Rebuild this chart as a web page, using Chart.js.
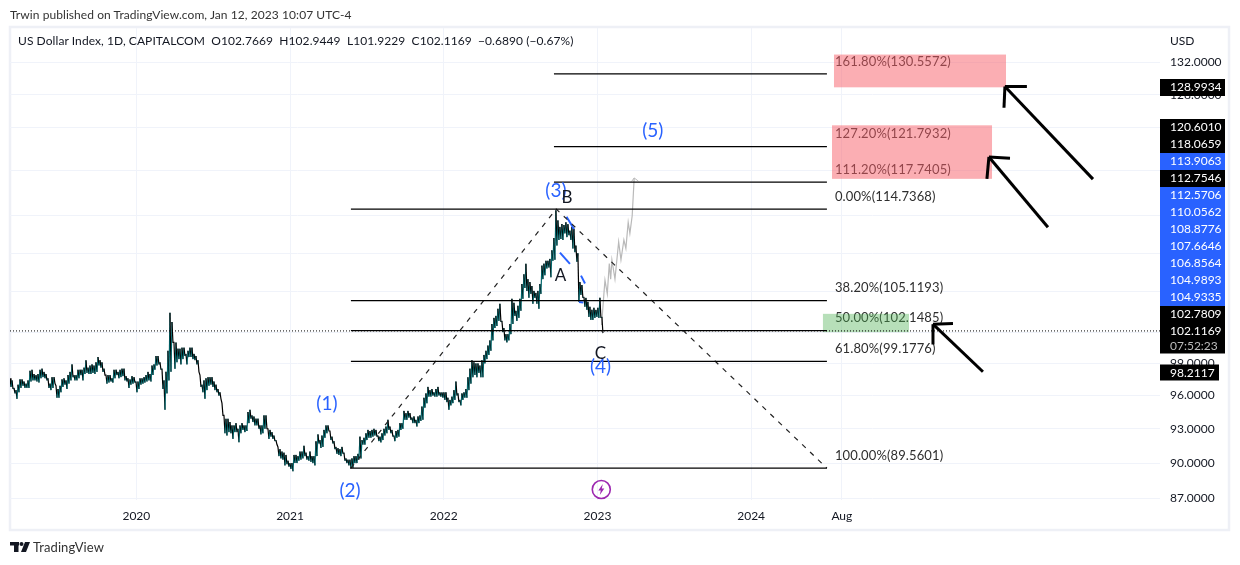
<!DOCTYPE html>
<html><head><meta charset="utf-8">
<script src="https://cdn.jsdelivr.net/npm/chart.js@4/dist/chart.umd.min.js"></script>
<style>
html,body{margin:0;padding:0;background:#fff;width:1240px;height:565px;overflow:hidden}
canvas{position:absolute;left:0;top:0}
.t{position:absolute;white-space:pre;color:#131722;font-family:"Lato",sans-serif;letter-spacing:0.07px}
</style></head><body>
<canvas id="c" width="1240" height="565"></canvas>
<div class="t" style="left:10px;top:7px;font-size:12px;color:#333">Trwin published on TradingView.com, Jan 12, 2023 10:07 UTC-4</div>
<div class="t" style="left:18px;top:33px;font-size:12px">US Dollar Index, 1D, CAPITALCOM  O102.7669  H102.9449  L101.9229  C102.1169  −0.6890 (−0.67%)</div>
<div class="t" style="left:33px;top:539px;font-size:13px;color:#333">TradingView</div>
<script>
const START_YEAR = 2019.178, STEP_YEAR = 0.01301;
const barHighs = [97.6,97.4,96.7,96.5,97.0,97.5,97.5,97.3,97.1,97.4,98.3,98.4,98.0,97.9,98.0,98.4,98.5,98.2,98.0,97.6,97.1,97.7,97.7,96.9,96.6,96.9,97.5,97.6,97.4,97.9,98.2,98.9,97.9,97.9,98.4,98.4,98.4,98.6,99.3,98.6,98.8,98.9,98.8,99.1,99.6,99.3,99.1,98.5,97.9,97.9,97.9,97.6,98.4,98.4,98.2,98.4,98.5,98.5,97.8,97.6,97.5,97.8,97.7,97.3,97.3,97.6,97.6,97.7,97.9,98.2,98.0,98.8,98.9,99.7,99.7,99.1,98.5,97.4,98.2,100.2,103.9,103.0,101.0,101.0,100.4,100.4,100.5,100.5,99.9,100.2,100.5,100.5,99.9,99.7,99.3,97.9,97.0,97.4,97.6,97.7,97.7,97.7,97.3,97.0,96.6,96.3,95.3,94.2,93.9,93.9,93.6,93.3,93.3,93.5,93.0,93.3,93.5,93.3,93.3,94.5,94.7,94.2,94.1,93.9,93.9,93.3,93.3,94.2,94.2,93.0,92.9,92.7,92.4,92.0,91.4,91.2,91.0,90.9,90.7,90.2,90.0,90.0,90.7,90.7,90.6,91.0,91.0,91.5,90.9,90.6,91.0,90.6,90.6,91.9,92.5,92.0,
92.4,92.9,93.3,93.3,92.8,92.3,91.9,91.4,91.3,91.2,91.4,90.9,90.4,90.3,90.3,90.4,90.6,90.6,90.8,92.3,92.0,92.2,92.6,92.9,92.8,92.9,93.0,92.9,92.4,92.3,92.6,93.0,93.2,93.8,93.2,92.9,92.4,92.8,92.9,93.5,93.5,94.6,94.4,94.6,94.4,94.0,94.1,93.8,94.1,94.2,95.0,95.8,96.2,96.8,96.5,96.6,96.3,96.6,96.8,96.3,96.3,96.3,96.3,95.8,95.6,95.9,96.5,97.3,96.2,95.6,96.2,96.3,96.6,97.7,98.5,99.3,99.1,99.0,99.0,98.8,99.3,99.8,100.2,100.7,101.2,102.8,103.4,103.6,104.3,104.8,103.1,102.4,101.8,101.8,102.8,105.3,104.9,104.1,104.6,105.3,106.8,107.8,108.9,107.3,107.0,106.6,106.1,105.9,106.1,106.8,108.7,108.9,109.2,109.2,109.4,
110.3,111.6,114.6,113.5,112.8,113.1,113.0,113.3,113.1,112.4,112.8,112.6,110.8,110.0,107.0,106.7,105.5,105.4,105.0,104.5,104.2,104.4,104.2,104.4,105.4,103.5];
const barLows = [96.8,96.6,96.2,95.7,96.3,96.7,96.9,96.7,96.7,96.7,97.3,97.4,97.4,97.3,97.2,97.6,97.7,97.6,97.4,96.7,96.5,96.7,97.1,95.8,95.8,96.3,96.8,97.0,96.6,97.1,97.4,97.7,97.4,97.4,97.6,97.9,97.4,98.0,98.1,98.0,98.0,98.1,98.0,98.2,98.8,98.6,98.2,97.9,97.1,97.2,97.3,97.2,97.6,97.9,97.6,97.7,97.8,97.4,97.3,96.7,97.0,97.1,97.2,96.3,96.6,97.0,97.1,97.2,97.3,97.4,97.3,97.9,98.4,98.8,98.9,98.4,96.6,94.7,96.2,97.4,98.2,101.0,98.5,99.1,99.4,98.9,99.4,99.7,98.9,99.6,99.6,99.4,99.3,98.9,98.2,96.8,96.3,95.7,96.5,96.9,97.0,96.8,96.5,96.3,96.0,95.7,94.2,92.6,92.4,92.7,92.6,92.1,92.7,92.7,91.8,92.6,92.9,92.7,92.8,93.5,93.9,93.6,93.3,93.3,93.0,92.5,92.6,93.0,93.0,92.1,92.3,92.1,91.9,91.6,90.6,90.4,90.3,89.8,89.9,89.7,89.5,89.3,90.0,90.0,90.2,90.3,90.4,90.6,90.3,90.2,90.1,90.0,89.8,90.6,91.7,91.3,
91.4,92.2,92.6,92.8,92.0,91.7,91.2,90.8,90.7,90.6,90.8,90.2,90.0,89.8,89.6,89.6,90.0,90.0,90.3,90.4,91.6,91.6,92.0,92.2,92.2,92.3,92.4,92.3,91.9,91.8,92.0,92.4,92.6,92.9,92.6,92.3,91.9,92.2,92.3,92.9,93.0,93.8,93.8,94.0,93.8,93.5,93.5,93.2,93.5,93.7,93.8,94.9,95.3,95.9,95.9,96.0,95.9,95.9,96.0,95.9,95.8,95.6,95.4,94.7,95.1,95.3,95.6,96.0,95.4,95.1,95.6,95.8,95.8,96.5,97.1,97.7,97.9,97.7,98.1,97.7,97.7,99.0,99.4,99.8,100.2,101.2,102.4,102.6,103.1,103.0,102.0,101.2,101.0,101.2,101.8,102.8,103.6,103.1,103.4,104.1,105.3,106.4,106.1,105.4,105.8,104.8,105.4,104.8,104.3,105.8,107.3,107.7,108.4,108.5,107.5,
109.2,109.3,110.8,111.4,111.5,111.4,112.1,111.7,111.9,111.4,110.5,110.1,109.1,105.0,105.7,105.4,104.5,104.2,103.5,103.2,103.2,103.4,103.5,103.4,103.4,101.9];

const LAST_PRICE = 102.1169;
const fibPercents = ['161.80%','127.20%','111.20%','0.00%','38.20%','50.00%','61.80%','100.00%'];
const fibPrices = [130.5572,121.7932,117.7405,114.7368,105.1193,102.1485,99.1776,89.5601];
const fibStarts = [2022.717,2022.717,2022.717,2021.396,2021.396,2021.396,2021.396,2021.39];
const FIB_END = 2024.493;
const FIB_LABEL_YEAR = 2024.545;

const dashYears = [2021.396,2022.732,2024.493];
const dashPrices = [89.5601,114.7368,89.5601];

const projYears = [2023.027,2023.042,2023.049,2023.064,2023.077,2023.086,2023.094,2023.114,2023.138,2023.153,2023.172,2023.185,2023.200,2023.211,2023.226,2023.239];
const projPrices = [102.7,105.8,107.2,105.8,108.9,107.3,109.3,107.3,111.2,109.3,111.4,110.5,113.3,112.1,114.0,118.2];
const headYears = [2023.222,2023.239,2023.266];
const headPrices = [117.8,118.2,117.85];

const blueYears = [[2022.799,2022.847],[2022.756,2022.821],[2022.893,2022.919],[2022.880,2022.908]];
const bluePrices = [[113.9063,112.5706],[110.0562,108.8776],[107.6646,106.8564],[104.9893,104.9335]];

const arrowTips = [[2025.651,128.9934],[2025.547,120.6010],[2025.183,102.7809]];
const arrowTails = [[2026.224,118.0659],[2025.931,112.7546],[2025.508,98.2117]];
const arrowArmA = [[2025.794,128.9934],[2025.684,120.45],[2025.313,102.85]];
const arrowArmB = [[2025.645,126.4],[2025.534,118.1],[2025.183,100.8]];

const zones = [[2024.539,2025.658,133.0,128.9,'pink'],[2024.526,2025.567,124.3,118.1,'pink'],[2024.467,2025.027,103.8,102.0,'green']];

const waveTexts = ['(1)','(2)','(3)','(4)','(5)'];
const waveYears = [2021.24,2021.39,2022.73,2023.02,2023.36];
const wavePrices = [95.2,87.67,116.7,98.7,123.6];
const abcTexts = ['A','B','C'];
const abcYears = [2022.76,2022.802,2023.02];
const abcPrices = [107.7,116.0,99.9];

const yTicks = [132,128,124,119,114,110,106,102,99,96,93,90,87];
const xTicks = [2020,2021,2022,2023,2024,2024.59];
const xTickLabels = ['2020','2021','2022','2023','2024','Aug'];

const tagTexts = ['128.9934','120.6010','118.0659','113.9063','112.7546','112.5706','110.0562','108.8776','107.6646','106.8564','104.9893','104.9335','102.7809','102.1169','98.2117'];
const tagBlue = [0,0,0,1,0,1,1,1,1,1,1,1,0,0,0];
const COUNTDOWN = '07:52:23';

const FONT = '"Lato",sans-serif';
const pts = (xs,ys)=>xs.map((x,i)=>({x,y:ys[i]}));
const zigzag = [];
barHighs.forEach((h,i)=>{
  const x = START_YEAR + i*STEP_YEAR;
  zigzag.push({x:x,y:h});
  zigzag.push({x:x+STEP_YEAR*0.5,y:barLows[i]});
});
const X_MIN = 2019.178, X_MAX = 2026.66, Y_MIN = 86.917, Y_MAX = 136.42;

const lineDs = (data,color,width,dash)=>({type:'line',data,borderColor:color,borderWidth:width,borderDash:dash||[],pointRadius:0,tension:0,fill:false,borderCapStyle:'butt'});
const datasets = [];
datasets.push(lineDs([{x:X_MIN,y:LAST_PRICE},{x:X_MAX,y:LAST_PRICE}],'#000',1,[1,2]));
fibPrices.forEach((p,i)=>datasets.push(lineDs([{x:fibStarts[i],y:p},{x:FIB_END,y:p}],'#000',1.25)));
datasets.push(lineDs(pts(dashYears,dashPrices),'#222',1.2,[5,6]));
blueYears.forEach((ys,i)=>datasets.push(lineDs(pts(ys,bluePrices[i]),'#2962ff',2)));
const priceDs = lineDs(zigzag,'#000',1.2);
priceDs.segment={borderColor:c=>c.p1.parsed.y>c.p0.parsed.y?'#00666b':'#000'};
datasets.push(priceDs);
datasets.push(lineDs(pts(projYears,projPrices),'#b9b9b9',1.2));
datasets.push(lineDs(pts(headYears,headPrices),'#b9b9b9',1));
arrowTips.forEach((tip,i)=>{
  const mk=a=>[{x:tip[0],y:tip[1]},{x:a[0],y:a[1]}];
  datasets.push(lineDs(mk(arrowTails[i]),'#000',3));
  datasets.push(lineDs(mk(arrowArmA[i]),'#000',3));
  datasets.push(lineDs(mk(arrowArmB[i]),'#000',3));
});

const under = {
  id:'under',
  beforeDraw(ch){
    const g=ch.ctx;
    g.save();
    g.strokeStyle='#eef0f6'; g.lineWidth=2.5;
    g.strokeRect(10,27,1219,503);
    g.fillStyle='#131722';
    g.fillRect(10,542,9,3.5); g.fillRect(14,542,4.5,10);
    g.beginPath(); g.arc(21.5,544,2,0,7); g.fill();
    g.beginPath(); g.moveTo(25,542);g.lineTo(30,542);g.lineTo(26,552);g.lineTo(21,552);g.closePath(); g.fill();
    g.restore();
  },
  beforeDatasetsDraw(ch){
    const g=ch.ctx,X=ch.scales.x,Y=ch.scales.y; g.save();
    g.fillStyle='#fff'; g.fillRect(1162,503,64,12);
    g.letterSpacing='0.12px';
    g.font='13px '+FONT; g.fillStyle='#2e2e2e'; g.textBaseline='middle'; g.textAlign='left';
    fibPrices.forEach((p,i)=>{
      g.fillText(fibPercents[i]+'('+p.toFixed(4)+')',X.getPixelForValue(FIB_LABEL_YEAR),Y.getPixelForValue(p)-12.5);
    });
    g.letterSpacing='0px';
    zones.forEach(z=>{
      g.fillStyle=z[4]==='pink'?'rgba(247,93,103,0.5)':'rgba(76,175,80,0.4)';
      const x0=X.getPixelForValue(z[0]),x1=X.getPixelForValue(z[1]),y0=Y.getPixelForValue(z[2]),y1=Y.getPixelForValue(z[3]);
      g.fillRect(x0,y0,x1-x0,y1-y0);
    });
    g.restore();
  },
  afterDatasetsDraw(ch){
    const g=ch.ctx,X=ch.scales.x,Y=ch.scales.y; g.save();
    g.textAlign='center'; g.textBaseline='middle';
    g.font='19px '+FONT; g.fillStyle='#2962ff';
    waveTexts.forEach((t,i)=>g.fillText(t,X.getPixelForValue(waveYears[i]),Y.getPixelForValue(wavePrices[i])));
    g.font='17px '+FONT; g.fillStyle='#131722';
    abcTexts.forEach((t,i)=>g.fillText(t,X.getPixelForValue(abcYears[i]),Y.getPixelForValue(abcPrices[i])));
    const ex=X.getPixelForValue(2023.025),ey=Y.getPixelForValue(87.75);
    g.strokeStyle='#9c27b0'; g.lineWidth=1.6; g.beginPath(); g.arc(ex,ey,9,0,7); g.stroke();
    g.fillStyle='#9c27b0'; g.beginPath();
    g.moveTo(ex+1.5,ey-5.5);g.lineTo(ex-3,ey+1);g.lineTo(ex-0.5,ey+1);g.lineTo(ex-1.5,ey+5.5);g.lineTo(ex+3,ey-1);g.lineTo(ex+0.5,ey-1);g.closePath();g.fill();
    const tops=[79,119,136,153,170,187,204,221,238,255,272,289,306,323,364.5];
    g.font='12px '+FONT; g.textAlign='left';
    tagTexts.forEach((t,i)=>{
      const w=i===14?59:65, h=i===14?16:17;
      g.fillStyle=tagBlue[i]?'#2962ff':'#000';
      g.fillRect(1160,tops[i],w,h);
      g.fillStyle='#fff';
      g.fillText(t,1170,tops[i]+8.5);
    });
    g.fillStyle='#000'; g.fillRect(1160,340,65,13.5);
    g.fillStyle='#bbb'; g.fillText(COUNTDOWN,1170,346);
    g.fillStyle='#131722'; g.textAlign='left'; g.fillText('USD',1170,41);
    g.restore();
  }
};

new Chart(document.getElementById('c'),{
  type:'line',
  data:{datasets},
  plugins:[under],
  options:{
    responsive:false,animation:false,normalized:true,
    devicePixelRatio:1,
    layout:{padding:{left:10,top:28,right:12,bottom:35.5}},
    plugins:{legend:{display:false},tooltip:{enabled:false},title:{display:false}},
    scales:{
      x:{type:'linear',min:X_MIN,max:X_MAX,bounds:'data',
        grid:{color:'#f0f3fa',drawTicks:false},border:{display:false},
        afterBuildTicks:s=>{s.ticks=xTicks.map(v=>({value:v}));},
        afterFit:s=>{s.height=30;},
        ticks:{autoSkip:false,maxRotation:0,padding:9,color:'#131722',font:{family:FONT,size:12},
          callback:v=>xTickLabels[xTicks.indexOf(v)]}},
      y:{type:'logarithmic',position:'right',min:Y_MIN,max:Y_MAX,bounds:'data',
        grid:{color:'#f0f3fa',drawTicks:false},border:{display:false},
        afterBuildTicks:s=>{s.ticks=yTicks.map(v=>({value:v}));},
        afterFit:s=>{s.width=68;},
        ticks:{autoSkip:false,padding:10,color:'#131722',font:{family:FONT,size:12},
          callback:v=>Number(v).toFixed(4)}}
    }
  }
});
</script>
</body></html>
